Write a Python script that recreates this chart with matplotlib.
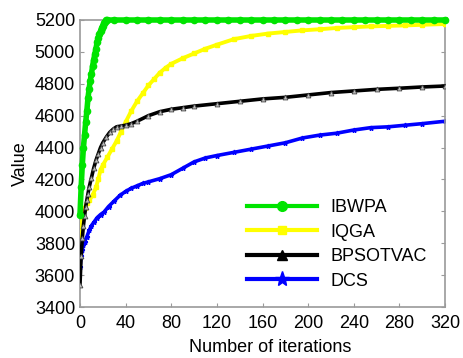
import matplotlib
matplotlib.use("Agg")
import matplotlib.pyplot as plt
from matplotlib.lines import Line2D

plt.rcParams["font.family"] = ["Liberation Sans", "DejaVu Sans"]

# values
IBWPA_X = [0, 1, 2, 3, 4, 5, 6, 7, 8, 9, 10, 11, 12, 13, 14, 15, 16, 17, 18, 19, 20,
           21, 22, 23, 24, 30, 40, 50, 60, 70, 80, 90, 100, 110, 120, 130, 140, 150,
           160, 170, 180, 190, 200, 210, 220, 230, 240, 250, 260, 270, 280, 290, 300,
           310, 320]
IBWPA_Y = [3980, 4150, 4290, 4400, 4480, 4560, 4630, 4710, 4770, 4820, 4860, 4910,
           4950, 4985, 5020, 5060, 5090, 5110, 5130, 5150, 5165, 5180, 5190, 5198,
           5200, 5200, 5200, 5200, 5200, 5200, 5200, 5200, 5200, 5200, 5200, 5200,
           5200, 5200, 5200, 5200, 5200, 5200, 5200, 5200, 5200, 5200, 5200, 5200,
           5200, 5200, 5200, 5200, 5200, 5200, 5200]

IQGA_X = [0, 1, 2, 4, 6, 8, 11, 14, 16, 18, 20, 24, 28, 32, 36, 40, 45, 50, 55, 60,
          65, 70, 75, 80, 90, 100, 110, 120, 135, 150, 165, 180, 195, 210, 225, 240,
          255, 270, 285, 300, 320]
IQGA_Y = [3850, 3950, 3990, 4020, 4050, 4070, 4100, 4150, 4200, 4260, 4290, 4340,
          4390, 4440, 4500, 4560, 4630, 4690, 4740, 4790, 4830, 4870, 4900, 4925,
          4960, 4990, 5020, 5045, 5080, 5100, 5115, 5125, 5135, 5142, 5150, 5155,
          5160, 5163, 5166, 5170, 5175]

BPSOTVAC_X = [0, 1, 2, 3, 4, 5, 6, 7, 8, 10, 12, 14, 16, 18, 20, 23, 26, 29, 32, 36,
              40, 45, 50, 60, 70, 80, 90, 100, 120, 140, 160, 180, 200, 220, 240, 260,
              280, 300, 320]
BPSOTVAC_Y = [3540, 3720, 3830, 3910, 3970, 4030, 4070, 4110, 4150, 4210, 4270, 4320,
              4360, 4400, 4430, 4465, 4495, 4515, 4530, 4535, 4540, 4550, 4565, 4600,
              4625, 4640, 4650, 4660, 4675, 4690, 4705, 4715, 4730, 4745, 4755, 4765,
              4772, 4780, 4786]

DCS_X = [0, 1, 2, 3, 4, 6, 8, 10, 12, 15, 18, 21, 25, 30, 35, 40, 45, 50, 55, 60, 70,
         80, 90, 100, 110, 120, 135, 150, 165, 180, 195, 210, 225, 240, 255, 270, 285,
         300, 320]
DCS_Y = [3650, 3720, 3760, 3790, 3810, 3840, 3880, 3910, 3930, 3960, 3980, 3995, 4030,
         4065, 4100, 4125, 4145, 4160, 4175, 4185, 4205, 4230, 4270, 4310, 4335, 4350,
         4370, 4390, 4410, 4430, 4460, 4478, 4490, 4510, 4525, 4530, 4540, 4550, 4565]

X_TICKS = [0, 40, 80, 120, 160, 200, 240, 280, 320]
Y_TICKS = [3400, 3600, 3800, 4000, 4200, 4400, 4600, 4800, 5000, 5200]

GREEN = "#00e400"
YELLOW = "#ffff00"
BLACK = "#000000"
BLUE = "#0000ff"
SPINE_GRAY = "#9a9a9a"

fig = plt.figure(figsize=(4.63, 3.58), dpi=100)
ax = fig.add_axes([80 / 463, 1 - 307 / 358, 365 / 463, 287 / 358])

ax.plot(DCS_X, DCS_Y, color=BLUE, lw=2.6, marker="*", ms=3.5, zorder=2)
ax.plot(IQGA_X, IQGA_Y, color=YELLOW, lw=2.8, marker="s", ms=3, zorder=3)
ax.plot(BPSOTVAC_X, BPSOTVAC_Y, color=BLACK, lw=2.6, marker="^", ms=3.5,
        mfc="#bbbbbb", mec="#444444", mew=0.6, zorder=4)
ax.plot(IBWPA_X, IBWPA_Y, color=GREEN, lw=4, marker="o", ms=4.5, zorder=5,
        clip_on=False)

ax.set_xlim(0, 320)
ax.set_ylim(3400, 5200)
ax.set_xticks(X_TICKS)
ax.set_yticks(Y_TICKS)
ax.tick_params(direction="in", length=3, color=SPINE_GRAY, labelsize=13,
               right=True, top=False)
ax.tick_params(axis="x", pad=6)
for spine in ax.spines.values():
    spine.set_color(SPINE_GRAY)
    spine.set_linewidth(1.2)

ax.set_xlabel("Number of iterations", fontsize=13)
ax.xaxis.set_label_coords(0.522, -0.112)
ax.set_ylabel("Value", fontsize=13, labelpad=4)

handles = [
    Line2D([], [], color=GREEN, lw=3, marker="o", ms=7, label="IBWPA"),
    Line2D([], [], color=YELLOW, lw=3, marker="s", ms=6, label="IQGA"),
    Line2D([], [], color=BLACK, lw=3, marker="^", ms=7, label="BPSOTVAC"),
    Line2D([], [], color=BLUE, lw=3, marker="*", ms=11, label="DCS"),
]
ax.legend(handles=handles, loc="upper left", bbox_to_anchor=(247 / 463, 1 - 199 / 358),
          bbox_transform=fig.transFigure, frameon=False, fontsize=13, borderpad=0,
          borderaxespad=0, handlelength=3.9, handletextpad=0.7, labelspacing=0.42)

fig.savefig("out.png", dpi=100)
